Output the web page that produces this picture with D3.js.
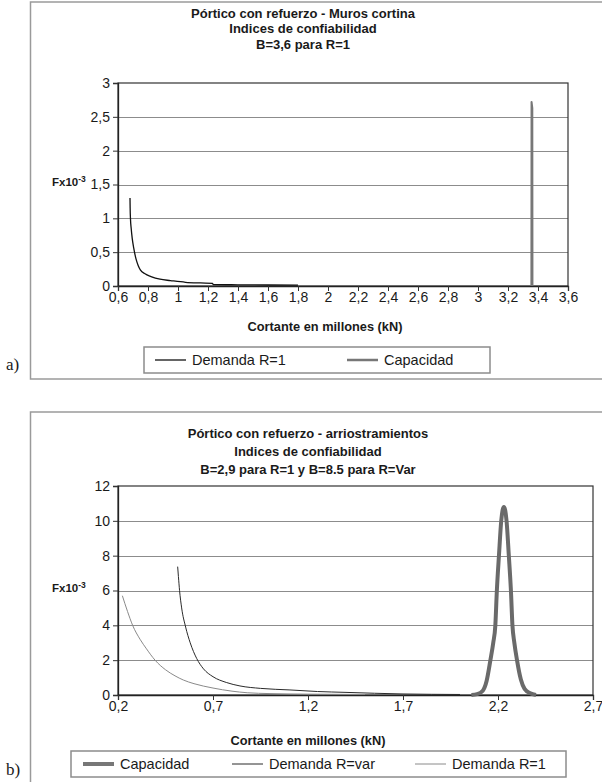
<!DOCTYPE html>
<html><head><meta charset="utf-8">
<script src="https://cdn.jsdelivr.net/npm/d3@7/dist/d3.min.js"></script>
<style>body{margin:0;background:#fff}svg{display:block}text{font-family:"Liberation Sans",Arial,sans-serif;fill:#1a1a1a}</style>
</head><body><svg id="c" width="602" height="782"></svg>
<script>
// ---- Chart a) data ----
const aXTicks = [0.6,0.8,1,1.2,1.4,1.6,1.8,2,2.2,2.4,2.6,2.8,3,3.2,3.4,3.6];
const aXTickLabels = ["0,6","0,8","1","1,2","1,4","1,6","1,8","2","2,2","2,4","2,6","2,8","3","3,2","3,4","3,6"];
const aYTicks = [0,0.5,1,1.5,2,2.5,3];
const aYTickLabels = ["0","0,5","1","1,5","2","2,5","3"];
const aDemandaX = [0.68,0.681,0.683,0.688,0.695,0.705,0.71,0.72,0.735,0.75,0.78,0.82,0.88,0.95,1.05,1.15,1.23,1.235,1.4,1.6,1.8];
const aDemandaY = [1.30,1.15,1.00,0.85,0.70,0.56,0.50,0.40,0.30,0.235,0.18,0.14,0.10,0.08,0.055,0.045,0.04,0.022,0.018,0.015,0.013];
const aCapX = [3.356,3.357,3.362,3.363];
const aCapY = [0,2.72,2.63,0];
const aTitle = ["Pórtico con refuerzo - Muros cortina","Indices de confiabilidad","B=3,6 para R=1"];
const aLegend = ["Demanda R=1","Capacidad"];

// ---- Chart b) data ----
const bXTicks = [0.2,0.7,1.2,1.7,2.2,2.7];
const bXTickLabels = ["0,2","0,7","1,2","1,7","2,2","2,7"];
const bYTicks = [0,2,4,6,8,10,12];
const bYTickLabels = ["0","2","4","6","8","10","12"];
const bCapX = [2.06,2.09,2.12,2.14,2.16,2.175,2.186,2.194,2.205,2.217,2.231,2.245,2.257,2.268,2.276,2.286,2.30,2.32,2.34,2.37,2.40];
const bCapY = [0,0.05,0.25,0.8,2.0,3.0,4.0,6.0,8.0,10.0,10.8,10.0,8.0,6.0,4.0,3.0,2.0,0.9,0.35,0.1,0];
const bVarX = [0.514,0.518,0.524,0.535,0.556,0.58,0.614,0.65,0.70,0.77,0.842,0.95,1.105,1.25,1.40,1.55,1.70,1.85,2.0];
const bVarY = [7.37,6.8,6.0,5.0,3.9,3.0,2.1,1.5,1.05,0.72,0.52,0.38,0.29,0.2,0.15,0.1,0.06,0.04,0.03];
const bR1X = [0.223,0.25,0.277,0.316,0.35,0.395,0.45,0.50,0.544,0.60,0.70,0.80,0.88,1.00,1.20,1.50];
const bR1Y = [5.7,4.8,4.0,3.2,2.65,2.0,1.45,1.1,0.86,0.65,0.40,0.22,0.13,0.08,0.05,0.03];
const bTitle = ["Pórtico con refuerzo - arriostramientos","Indices de confiabilidad","B=2,9 para R=1 y B=8.5 para R=Var"];
const bLegend = ["Capacidad","Demanda R=var","Demanda R=1"];

const svg = d3.select("#c");
svg.append("rect").attr("width",602).attr("height",782).attr("fill","#fff");

function zip(xs,ys){return xs.map((x,i)=>[x,ys[i]]);}

function chart(cfg){
  const g = svg.append("g");
  g.append("rect").attr("x",cfg.frame[0]).attr("y",cfg.frame[1]).attr("width",cfg.frame[2]).attr("height",cfg.frame[3])
    .attr("fill","none").attr("stroke","#9a9a9a").attr("stroke-width",1.5);
  const x = d3.scaleLinear().domain(cfg.xd).range(cfg.xr);
  const y = d3.scaleLinear().domain(cfg.yd).range(cfg.yr);
  g.append("g").selectAll("line").data(cfg.yTicks.slice(1,-1)).join("line")
    .attr("x1",cfg.xr[0]).attr("x2",cfg.xr[1]).attr("y1",d=>Math.round(y(d))+0.5).attr("y2",d=>Math.round(y(d))+0.5)
    .attr("stroke","#8c8c8c").attr("stroke-width",1);
  g.append("rect").attr("x",cfg.xr[0]).attr("y",cfg.yr[1]).attr("width",cfg.xr[1]-cfg.xr[0]).attr("height",cfg.yr[0]-cfg.yr[1])
    .attr("fill","none").attr("stroke","#333").attr("stroke-width",1.2);
  const ya = g.append("g").attr("transform",`translate(${cfg.xr[0]},0)`)
    .call(d3.axisLeft(y).tickValues(cfg.yTicks).tickSize(5).tickPadding(3).tickFormat((d,i)=>cfg.yLabels[i]));
  const xa = g.append("g").attr("transform",`translate(0,${cfg.yr[0]})`)
    .call(d3.axisBottom(x).tickValues(cfg.xTicks).tickSize(5).tickPadding(1).tickFormat((d,i)=>cfg.xLabels[i]));
  [ya,xa].forEach(a=>{a.select(".domain").attr("stroke","#222").attr("stroke-width",1.3);
    a.selectAll(".tick line").attr("stroke","#333");
    a.selectAll(".tick text").style("font-family","'Liberation Sans',Arial,sans-serif").style("font-size",cfg.tickFont+"px").attr("fill","#222");});
  cfg.series.forEach(s=>{
    const line = d3.line().x(d=>x(d[0])).y(d=>y(d[1])).curve(s.smooth ? d3.curveMonotoneX : d3.curveLinear);
    g.append("path").datum(s.data).attr("d",line).attr("fill","none").attr("stroke",s.color)
      .attr("stroke-width",s.w).attr("stroke-linejoin","round");
  });
  cfg.title.forEach((t,i)=>g.append("text").attr("x",cfg.titleX).attr("y",cfg.titleY+i*cfg.titleStep)
    .attr("text-anchor","middle").style("font-weight","bold").style("font-size",cfg.titleFont+"px").text(t));
  const yl = g.append("text").attr("x",52).attr("y",cfg.yLabelY).style("font-weight","bold").style("font-size","11.5px");
  yl.append("tspan").text("Fx10");
  yl.append("tspan").attr("dy",-4).style("font-size","8.5px").text("-3");
  g.append("text").attr("x",cfg.xTitleX).attr("y",cfg.xTitleY).attr("text-anchor","middle")
    .style("font-weight","bold").style("font-size","12.8px").text("Cortante en millones (kN)");
  const L = cfg.legend;
  g.append("rect").attr("x",L.box[0]).attr("y",L.box[1]).attr("width",L.box[2]).attr("height",L.box[3])
    .attr("fill","#fff").attr("stroke","#8c8c8c").attr("stroke-width",1.5);
  L.items.forEach(it=>{
    g.append("line").attr("x1",it.x).attr("x2",it.x+31).attr("y1",L.ly).attr("y2",L.ly).attr("stroke",it.color).attr("stroke-width",it.w);
    g.append("text").attr("x",it.x+37).attr("y",L.ly+5).style("font-size","14.5px").attr("fill","#222").text(it.label);
  });
  g.append("text").attr("x",6).attr("y",cfg.letterY).style("font-family","'Liberation Serif','Times New Roman',serif")
    .style("font-size","17px").text(cfg.letter);
}

chart({
  frame:[30.5,2,600,377], xd:[0.6,3.6], xr:[118,568], yd:[0,3], yr:[286,83],
  xTicks:aXTicks, xLabels:aXTickLabels, yTicks:aYTicks, yLabels:aYTickLabels, tickFont:14,
  series:[
    {data:zip(aDemandaX,aDemandaY), color:"#111", w:1.3, smooth:true},
    {data:zip(aCapX,aCapY), color:"#777", w:2}
  ],
  title:aTitle, titleX:303, titleY:17.5, titleStep:15.5, titleFont:13,
  yLabelY:186, xTitleX:325, xTitleY:331,
  legend:{box:[144,347,346,26], ly:360, items:[
    {x:155,label:aLegend[0],color:"#111",w:1.3},
    {x:347,label:aLegend[1],color:"#777",w:2.5}]},
  letter:"a)", letterY:370
});

chart({
  frame:[30.5,412,600,400], xd:[0.2,2.7], xr:[118,593], yd:[0,12], yr:[695,486],
  xTicks:bXTicks, xLabels:bXTickLabels, yTicks:bYTicks, yLabels:bYTickLabels, tickFont:14,
  series:[
    {data:zip(bR1X,bR1Y), color:"#8a8a8a", w:1, smooth:true},
    {data:zip(bVarX,bVarY), color:"#2a2a2a", w:1, smooth:true},
    {data:zip(bCapX,bCapY), color:"#6a6a6a", w:4, smooth:true}
  ],
  title:bTitle, titleX:308, titleY:438, titleStep:18, titleFont:13,
  yLabelY:592, xTitleX:308, xTitleY:745,
  legend:{box:[71,751,495,26], ly:764, items:[
    {x:83,label:bLegend[0],color:"#777",w:4},
    {x:232,label:bLegend[1],color:"#2a2a2a",w:1},
    {x:415,label:bLegend[2],color:"#8a8a8a",w:1}]},
  letter:"b)", letterY:775
});
</script></body></html>
